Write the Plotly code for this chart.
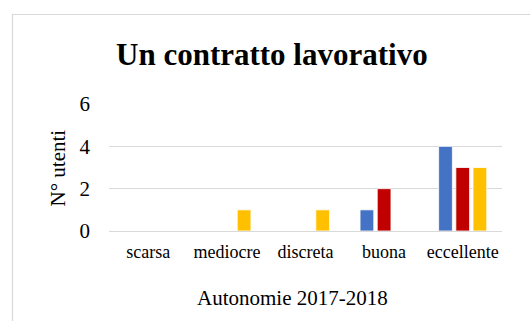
import plotly.graph_objects as go

categories = ["scarsa", "mediocre", "discreta", "buona", "eccellente"]
serie_blu = [0, 0, 0, 1, 4]
serie_rossa = [0, 0, 0, 2, 3]
serie_gialla = [0, 1, 1, 0, 3]
y_ticks = [0, 2, 4, 6]

W, H = 530, 321
L, R, T, B = 109, 28, 104, 90
pw, ph = W - L - R, H - T - B

def px(x):
    return (x - L) / pw

def py(y):
    return (H - B - y) / ph

FONT = "Liberation Serif, Times New Roman, serif"

fig = go.Figure()
for vals, col in [(serie_blu, "#4472C4"), (serie_rossa, "#C00000"), (serie_gialla, "#FFC000")]:
    fig.add_trace(go.Bar(x=categories, y=vals, marker=dict(color=col, line=dict(color="white", width=0.8)),
                         showlegend=False))

fig.update_layout(
    width=W, height=H,
    margin=dict(l=L, r=R, t=T, b=B, pad=0),
    paper_bgcolor="white", plot_bgcolor="white",
    barmode="group", bargap=0.344, bargroupgap=0.2,
    font=dict(family=FONT, color="black"),
    xaxis=dict(showgrid=False, showline=False, zeroline=False, ticks="",
               tickfont=dict(size=18, family=FONT, color="black"), ticklabelstandoff=8),
    yaxis=dict(range=[0, 6], tickvals=y_ticks, showgrid=True, gridcolor="#d9d9d9", gridwidth=1.2,
               zeroline=True, zerolinecolor="#d9d9d9", zerolinewidth=1.2, showline=False, ticks="",
               tickfont=dict(size=21, family=FONT, color="black"), ticklabelstandoff=18),
    shapes=[dict(type="rect", xref="paper", yref="paper",
                 x0=px(12.5), y0=py(340), x1=px(545), y1=py(14.5),
                 line=dict(color="#d9d9d9", width=1.2), fillcolor="rgba(0,0,0,0)", layer="below")],
    annotations=[
        dict(text="<b>Un contratto lavorativo</b>", x=px(271.5), y=py(54), xref="paper", yref="paper",
             showarrow=False, xanchor="center", yanchor="middle", font=dict(size=31, family=FONT, color="black")),
        dict(text="N° utenti", x=px(57), y=py(168.5), xref="paper", yref="paper", textangle=-90,
             showarrow=False, xanchor="center", yanchor="middle", font=dict(size=21, family=FONT, color="black")),
        dict(text="Autonomie 2017-2018", x=px(292.5), y=py(298), xref="paper", yref="paper",
             showarrow=False, xanchor="center", yanchor="middle", font=dict(size=21, family=FONT, color="black")),
    ],
)

fig.write_html("out.html")
